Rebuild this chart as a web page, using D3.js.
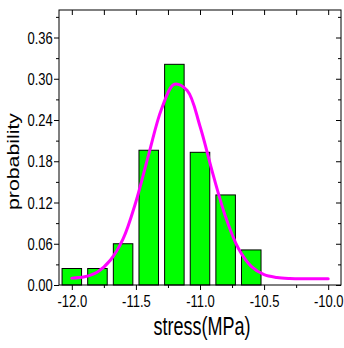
<!DOCTYPE html>
<html>
<head>
<meta charset="utf-8">
<script src="https://cdn.jsdelivr.net/npm/d3@7"></script>
<style>
  html, body { margin: 0; padding: 0; background: #fff; }
  svg { display: block; }
  text { font-family: "Liberation Sans", Arial, sans-serif; fill: #000; }
</style>
</head>
<body>
<svg id="chart" width="344" height="348"></svg>
<script>
// Histogram bins (stress, MPa) and their probabilities
const binCenters = [-12.0, -11.8, -11.6, -11.4, -11.2, -11.0, -10.8, -10.6];
const probability = [0.024, 0.024, 0.060, 0.196, 0.321, 0.193, 0.131, 0.051];

// Fitted distribution curve
const fitX = [-12.0, -11.9, -11.8, -11.7, -11.6, -11.5, -11.4, -11.3, -11.2, -11.1,
              -11.0, -10.9, -10.8, -10.7, -10.6, -10.5, -10.4, -10.3, -10.2, -10.1, -10.0];
const fitY = [0.010, 0.012, 0.019, 0.036, 0.067, 0.121, 0.190, 0.256, 0.292, 0.283,
              0.231, 0.162, 0.099, 0.053, 0.027, 0.015, 0.011, 0.0095, 0.009, 0.009, 0.009];

// Axis ticks
const xMajorTicks = [-12.0, -11.5, -11.0, -10.5, -10.0];
const xMinorTicks = [-11.75, -11.25, -10.75, -10.25];
const yMajorTicks = [0.00, 0.06, 0.12, 0.18, 0.24, 0.30, 0.36];
const yMinorTicks = [0.03, 0.09, 0.15, 0.21, 0.27, 0.33, 0.39];

const binWidth = 0.16;

const plotLeft = 59, plotRight = 341, plotTop = 10, plotBottom = 285;
const svg = d3.select("#chart");

const x = d3.scaleLinear().domain([-12.1, -9.9]).range([plotLeft, plotRight]);
const y = d3.scaleLinear().domain([0, 0.40]).range([plotBottom, plotTop]);

const fontSize = 13, stretch = 1.24;

// Bars
const barW = x(binWidth) - x(0) - 1;
svg.append("g")
  .selectAll("rect")
  .data(binCenters)
  .join("rect")
  .attr("x", (d) => x(d) - barW / 2)
  .attr("y", (d, i) => y(probability[i]))
  .attr("width", barW)
  .attr("height", (d, i) => y(0) - y(probability[i]))
  .attr("fill", "#00ff00")
  .attr("stroke", "#000")
  .attr("stroke-width", 1);

// Fit curve
const line = d3.line()
  .x((d, i) => x(fitX[i]))
  .y((d) => y(d))
  .curve(d3.curveCatmullRom.alpha(0.5));
svg.append("path")
  .attr("d", line(fitY))
  .attr("fill", "none")
  .attr("stroke", "#ff00ff")
  .attr("stroke-width", 3)
  .attr("stroke-linecap", "round");

function axisGroup(axis, tx, ty) {
  const g = svg.append("g").attr("transform", `translate(${tx},${ty})`).call(axis);
  g.select(".domain").remove();
  g.selectAll("line").attr("stroke", "#000");
  return g;
}

// Bottom axis: outward ticks with labels
const gx = axisGroup(d3.axisBottom(x).tickValues(xMajorTicks).tickSize(5)
  .tickFormat(d3.format(".1f")), 0, plotBottom);
gx.selectAll("text")
  .attr("font-size", fontSize)
  .attr("font-family", null)
  .attr("dy", 0)
  .attr("y", 21.7 / stretch)
  .attr("transform", `scale(1,${stretch})`)
  .text((d) => d3.format(".1f")(d).replace("\u2212", "-"));
axisGroup(d3.axisBottom(x).tickValues(xMinorTicks).tickSize(3).tickFormat(""), 0, plotBottom);

// Top axis: inward ticks
axisGroup(d3.axisTop(x).tickValues(xMajorTicks).tickSize(-5).tickFormat(""), 0, plotTop);
axisGroup(d3.axisTop(x).tickValues(xMinorTicks).tickSize(-5).tickFormat(""), 0, plotTop);

// Left axis: outward ticks with labels
const gy = axisGroup(d3.axisLeft(y).tickValues(yMajorTicks).tickSize(5)
  .tickFormat(d3.format(".2f")), plotLeft, 0);
gy.selectAll("text")
  .attr("font-size", fontSize)
  .attr("font-family", null)
  .attr("dy", 0)
  .attr("x", -6.3)
  .attr("y", 5.7 / stretch)
  .attr("transform", `scale(1,${stretch})`);
axisGroup(d3.axisLeft(y).tickValues(yMinorTicks).tickSize(3).tickFormat(""), plotLeft, 0);

// Right axis: inward ticks
axisGroup(d3.axisRight(y).tickValues(yMajorTicks).tickSize(-5).tickFormat(""), plotRight, 0);
axisGroup(d3.axisRight(y).tickValues(yMinorTicks).tickSize(-3).tickFormat(""), plotRight, 0);

// Frame
svg.append("rect")
  .attr("x", plotLeft).attr("y", plotTop)
  .attr("width", plotRight - plotLeft).attr("height", plotBottom - plotTop)
  .attr("fill", "none").attr("stroke", "#000").attr("stroke-width", 1);

// Axis titles
svg.append("text")
  .attr("transform", `translate(${(plotLeft + plotRight) / 2 + 2},334.5) scale(1,1.45)`)
  .attr("text-anchor", "middle")
  .attr("font-size", 18)
  .text("stress(MPa)");

svg.append("text")
  .attr("transform", `translate(18.8,161.5) rotate(-90) scale(1.33,1)`)
  .attr("text-anchor", "middle")
  .attr("font-size", 16)
  .text("probability");
</script>
</body>
</html>
